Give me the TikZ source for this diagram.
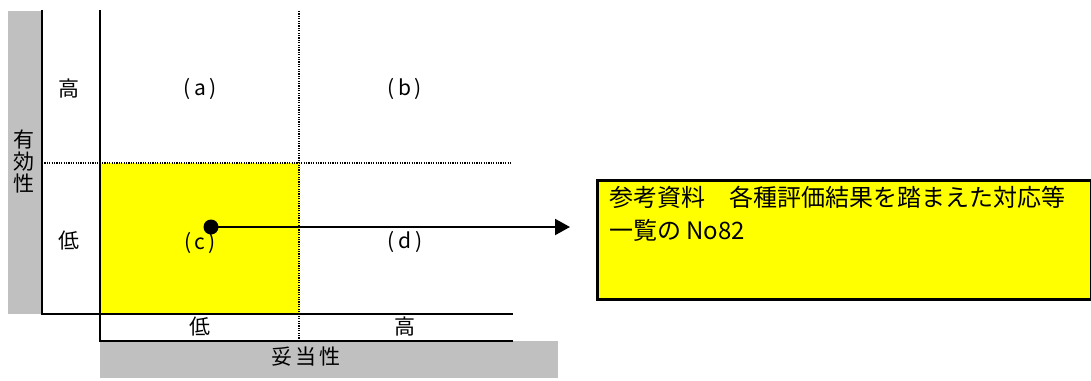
\documentclass[tikz,border=0pt]{standalone}
\usepackage{fontspec}
\setmainfont{Noto Sans CJK JP}
\usetikzlibrary{arrows.meta}
\definecolor{ybox}{RGB}{255,255,0}
\definecolor{gbar}{RGB}{192,192,192}
\tikzset{
  axisline/.style={line width=2.5pt, line cap=rect},
  dotline/.style={line width=1.5pt, dash pattern=on 1.2pt off 1.2pt},
  lbl/.style={inner sep=0pt, font=\fontsize{21}{24}\selectfont},
  boxtxt/.style={inner sep=0pt, anchor=west, font=\fontsize{24}{28}\selectfont},
}
\begin{document}
\begin{tikzpicture}[x=1pt,y=-1pt]
\useasboundingbox (0,0) rectangle (1091,380);
% bars and fills
\fill[gbar] (8,11) rectangle (42,314);
\fill[gbar] (100,341) rectangle (558,378);
\fill[ybox] (100,163) rectangle (299,314);
% dotted dividers
\draw[dotline] (42,163) -- (512,163);
\draw[dotline] (299,11) -- (299,341);
% axes
\draw[axisline] (42,11) -- (42,314) -- (512,314);
\draw[axisline] (100,11) -- (100,341) -- (512,341);
% labels
\node[lbl] (yhi) at (69,89) {高};
\node[lbl] (ylo) at (69,241) {低};
\node[lbl, align=center, font=\fontsize{21}{22}\selectfont] (ytitle) at (24,162) {有\\効\\性};
\node[lbl] (xlo) at (200,327) {低};
\node[lbl] (xhi) at (405,327) {高};
\node[lbl] (xtitle) at (306,357) {妥\hspace{3pt}当\hspace{3pt}性};
\node[lbl] (qa) at (200,89) {(\,a\,)};
\node[lbl] (qb) at (405,89) {(\,b\,)};
\node[lbl] (qc) at (200,243) {(\,c\,)};
\node[lbl] (qd) at (405,242) {(\,d\,)};
% reference box
\node[draw, line width=2.5pt, fill=ybox, minimum width=494pt, minimum height=119pt, anchor=north west, inner sep=0pt] (refbox) at (596,179) {};
\node[boxtxt] (line1) at (609,197) {参考資料　各種評価結果を踏まえた対応等};
\node[boxtxt] (line2) at (609,230) {一覧の No82};
% marker and arrow
\node[circle, fill=black, inner sep=0pt, minimum size=15pt] (dot) at (211,227) {};
\coordinate (tip) at (570,227);
\draw[line width=2pt, -{Triangle[length=15pt,width=16pt]}] (dot.center) -- (tip);
\end{tikzpicture}
\end{document}
